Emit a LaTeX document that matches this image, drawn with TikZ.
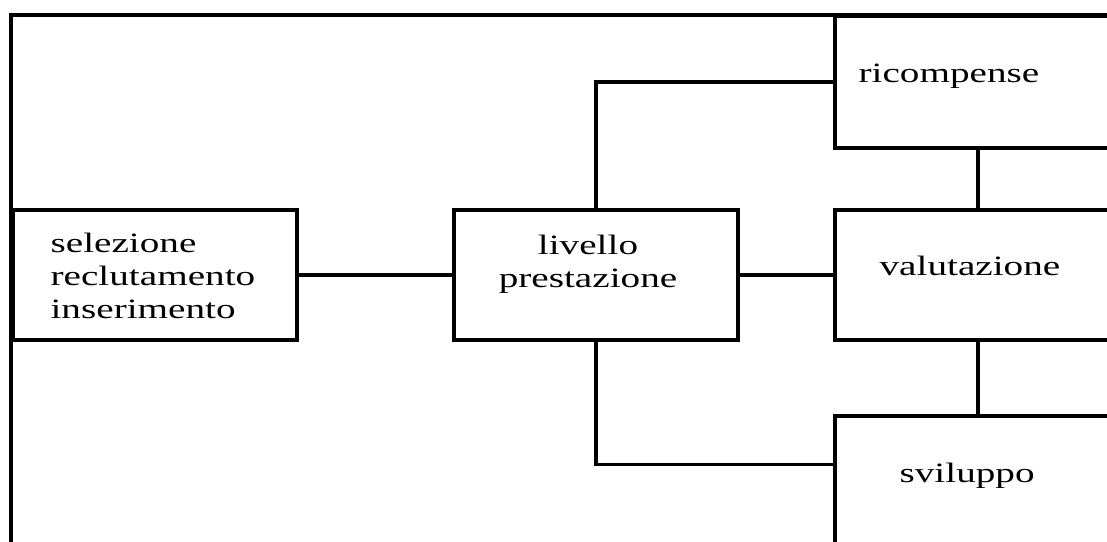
\documentclass[tikz,border=0pt]{standalone}
\usepackage{fontspec}
\setmainfont{Liberation Serif}[FakeStretch=1.4]
\usepackage{tikz}
\usetikzlibrary{positioning, calc}

\begin{document}
\begin{tikzpicture}
    [x=1pt, y=-1pt, line width=3.2pt,
     box/.style={rectangle,draw=black,inner sep=0pt,minimum height=130pt},
     lbl/.style={inner sep=0pt,font=\fontsize{28}{33}\selectfont}]
    \useasboundingbox (0,0) rectangle (1107,541);
    \clip (0,0) rectangle (1107,541);
    \draw (11,15) rectangle (1150,580);
    \node (sel) at (155,275) [box, minimum width=284pt] {};
    \node (liv) at (596,275) [box, minimum width=284pt] {};
    \node (val) at (978,275) [box, minimum width=286pt] {};
    \node (ric) at (978,82) [box, minimum width=286pt, minimum height=132pt] {};
    \node (svi) at (978,493) [box, minimum width=286pt, minimum height=154pt] {};
    \node (sel-txt) at (49,318) [lbl, anchor=base west, align=left]
        {selezione\\reclutamento\\inserimento};
    \node (liv-txt) at (588,287) [lbl, anchor=base, align=center]
        {livello\\prestazione};
    \node (val-txt) at (878,275) [lbl, anchor=base west] {valutazione};
    \node (ric-txt) at (857,82) [lbl, anchor=base west] {ricompense};
    \node (svi-txt) at (898,482) [lbl, anchor=base west] {sviluppo};
    \draw (sel) -- (liv);
    \draw (liv) -- (val);
    \draw (liv.north) |- (ric.west);
    \draw (liv.south) |- ([yshift=-50pt]svi.north west);
    \draw (ric) -- (val);
    \draw (val) -- (svi);
\end{tikzpicture}
\end{document}
